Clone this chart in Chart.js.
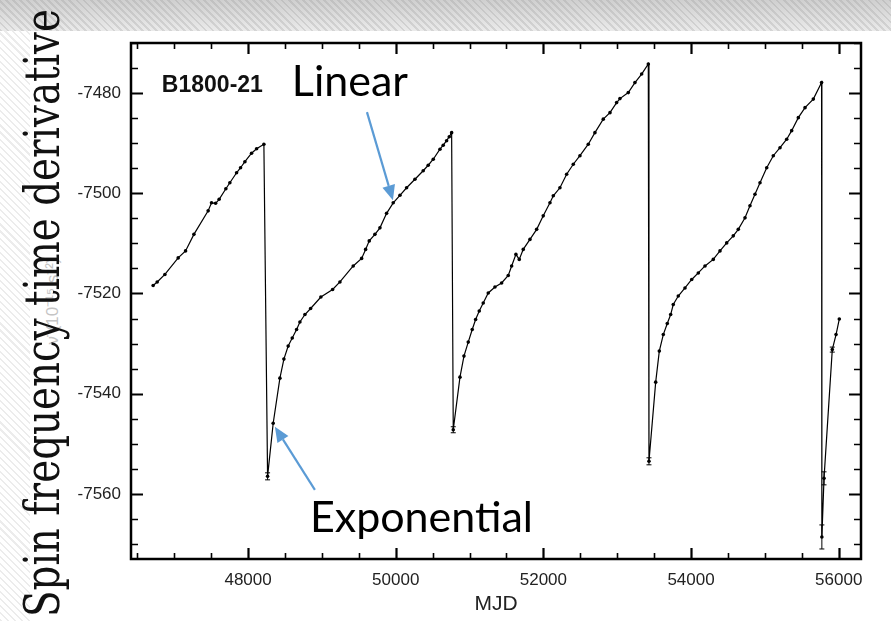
<!DOCTYPE html>
<html>
<head>
<meta charset="utf-8">
<script src="https://cdn.jsdelivr.net/npm/chart.js@4"></script>
<style>
html,body{margin:0;padding:0;width:891px;height:621px;overflow:hidden;}
body{position:relative;background:repeating-linear-gradient(45deg,#ececec 0 1.5px,#ffffff 1.5px 5px);}
#topband{position:absolute;left:0;top:0;width:891px;height:31px;
  background:linear-gradient(to bottom,rgba(150,150,150,0.35),rgba(200,200,200,0.1)),repeating-linear-gradient(45deg,#d6d6d6 0 2px,#eeeeee 2px 5px);}
#panel{position:absolute;left:30px;top:31px;right:0;bottom:0;background:#ffffff;}
#wrap{position:absolute;left:0;top:0;width:891px;height:621px;}
#faint{position:absolute;left:0;top:0;white-space:nowrap;font-family:'Liberation Sans';font-size:17px;line-height:17px;color:#c4c4c4;transform-origin:0 0;}
#big{position:absolute;left:0;top:0;white-space:nowrap;font-family:'DejaVu Serif';font-size:49px;line-height:49px;color:#111;transform-origin:0 0;}
</style>
</head>
<body>
<div id="topband"></div>
<div id="panel"></div>
<div id="faint">ν̇ (10⁻¹⁵ s⁻²)</div>
<div id="wrap"><canvas id="c" width="891" height="621"></canvas></div>
<div id="big">Spin frequency time derivative</div>
<script>
// ---- data ----
const mjd = [
  46714,46769,46873,47053,47153,47266,47459,47505,47560,47608,47699,47753,47844,47898,47957,48047,48115,48214,
  48264,48340,48431,48485,48543,48598,48657,48702,48770,48847,48986,49145,49244,49424,49538,49592,49641,49718,49786,49876,49966,50057,50147,50260,50372,50440,50508,50599,50643,50689,50725,50757,
  50779,50870,50924,50982,51036,51082,51131,51185,51253,51344,51434,51524,51570,51628,51673,51727,51818,51909,51998,52089,52134,52224,52315,52405,52495,52608,52698,52811,52902,52992,53037,53150,53240,53331,53421,
  53430,53521,53570,53624,53678,53724,53759,53827,53918,54009,54098,54189,54301,54392,54483,54572,54640,54731,54798,54866,54934,55025,55114,55205,55296,55363,55453,55544,55656,55768,
  55772,55801,55913,55964,56008
];
const nudot = [
  -7518.4,-7517.7,-7516.2,-7512.9,-7511.5,-7508.2,-7503.5,-7501.9,-7502.0,-7501.2,-7499.1,-7497.9,-7495.9,-7494.9,-7493.7,-7492.0,-7491.1,-7490.2,
  -7556.5,-7545.9,-7536.9,-7533.1,-7530.5,-7528.9,-7527.2,-7525.7,-7524.2,-7523.0,-7520.7,-7519.2,-7517.7,-7514.5,-7513.0,-7511.2,-7509.5,-7508.2,-7506.9,-7504.0,-7501.9,-7500.4,-7498.9,-7497.2,-7495.5,-7494.4,-7493.2,-7491.2,-7490.4,-7489.5,-7488.7,-7487.9,
  -7547.2,-7536.7,-7532.5,-7529.7,-7527.2,-7525.2,-7523.5,-7521.9,-7519.9,-7518.7,-7517.9,-7516.4,-7514.5,-7512.2,-7513.2,-7511.2,-7509.2,-7507.2,-7504.5,-7501.9,-7500.5,-7498.9,-7496.2,-7494.2,-7492.5,-7490.2,-7487.9,-7485.2,-7483.9,-7481.9,-7481.1,-7479.9,-7477.9,-7476.2,-7474.2,
  -7553.5,-7537.7,-7531.5,-7528.2,-7526.0,-7524.2,-7522.2,-7520.5,-7518.9,-7517.2,-7515.9,-7514.5,-7513.2,-7511.5,-7509.9,-7508.5,-7507.2,-7504.9,-7502.5,-7500.2,-7497.9,-7494.9,-7492.5,-7490.9,-7489.2,-7487.5,-7484.9,-7482.9,-7481.2,-7477.9,
  -7568.6,-7556.9,-7531.2,-7528.2,-7525.1
];
// error bars (only a few points show visible ones)
const errIndex = [18, 50, 85, 115, 116, 117];
const errSize  = [0.7, 0.6, 0.7, 2.4, 1.3, 0.5];

const xTickLabels = [48000, 50000, 52000, 54000, 56000];
const yTickLabels = [-7480, -7500, -7520, -7540, -7560];

const pulsarName = 'B1800-21';
// annotations in data coordinates
const notes = [
  {text:'Linear', x:48593, y:-7480.6},
  {text:'Exponential', x:48837, y:-7567.6}
];
const arrows = [
  {from:[49610,-7483.8], to:[49962,-7501.4]},
  {from:[48905,-7559.2], to:[48363,-7546.6]}
];

// ---- big slide label ----
(function(){
  const big = document.getElementById('big');
  const w = big.getBoundingClientRect().width;
  big.style.transform = 'translate(18px,617px) rotate(-90deg) scaleX(' + (608 / w) + ')';
  const f = document.getElementById('faint');
  const fw = f.getBoundingClientRect().width;
  f.style.transform = 'translate(44px,' + (301 + fw/2) + 'px) rotate(-90deg)';
})();

function stepTicks(step) {
  return scale => {
    const t = [];
    for (let v = Math.ceil(scale.min / step) * step; v <= scale.max; v += step) t.push({value: v});
    scale.ticks = t;
  };
}

const frame = {
  id: 'frame',
  afterDraw(chart) {
    const ctx = chart.ctx, a = chart.chartArea;
    const xs = chart.scales.x, ys = chart.scales.y;
    ctx.save();
    ctx.strokeStyle = '#000';
    xs.ticks.forEach(t => {
      const v = t.value;
      const major = v % 2000 === 0;
      const len = major ? 11 : 6;
      const px = Math.round(xs.getPixelForValue(v)) + 0.5;
      ctx.lineWidth = major ? 2.2 : 1.6;
      ctx.beginPath();
      ctx.moveTo(px, a.bottom); ctx.lineTo(px, a.bottom - len);
      ctx.moveTo(px, a.top); ctx.lineTo(px, a.top + len);
      ctx.stroke();
    });
    ys.ticks.forEach(t => {
      const v = t.value;
      const major = v % 20 === 0;
      const len = major ? 12 : 7;
      const py = Math.round(ys.getPixelForValue(v)) + 0.5;
      ctx.lineWidth = major ? 2.2 : 1.6;
      ctx.beginPath();
      ctx.moveTo(a.left, py); ctx.lineTo(a.left + len, py);
      ctx.moveTo(a.right, py); ctx.lineTo(a.right - len, py);
      ctx.stroke();
    });
    ctx.lineWidth = 2.5;
    ctx.strokeRect(a.left, a.top, a.right - a.left, a.bottom - a.top);

    ctx.lineWidth = 1;
    errIndex.forEach((i, k) => {
      const px = xs.getPixelForValue(mjd[i]);
      const y1 = ys.getPixelForValue(nudot[i] - errSize[k]);
      const y2 = ys.getPixelForValue(nudot[i] + errSize[k]);
      ctx.beginPath();
      ctx.moveTo(px, y1); ctx.lineTo(px, y2);
      ctx.moveTo(px - 2.5, y1); ctx.lineTo(px + 2.5, y1);
      ctx.moveTo(px - 2.5, y2); ctx.lineTo(px + 2.5, y2);
      ctx.stroke();
    });

    ctx.fillStyle = '#111';
    ctx.font = 'bold 23px "Liberation Sans"';
    ctx.textBaseline = 'alphabetic';
    ctx.textAlign = 'left';
    ctx.fillText(pulsarName, xs.getPixelForValue(46832), ys.getPixelForValue(-7479.8));

    ctx.fillStyle = '#000';
    ctx.font = '43px Lato';
    notes.forEach(n => ctx.fillText(n.text, xs.getPixelForValue(n.x), ys.getPixelForValue(n.y)));

    ctx.strokeStyle = '#5b9bd5';
    ctx.fillStyle = '#5b9bd5';
    ctx.lineWidth = 2.2;
    arrows.forEach(ar => {
      const x0 = xs.getPixelForValue(ar.from[0]), y0 = ys.getPixelForValue(ar.from[1]);
      const x1 = xs.getPixelForValue(ar.to[0]), y1 = ys.getPixelForValue(ar.to[1]);
      const ang = Math.atan2(y1 - y0, x1 - x0);
      const hl = 15, hw = 6.5;
      const bx = x1 - hl * Math.cos(ang), by = y1 - hl * Math.sin(ang);
      ctx.beginPath(); ctx.moveTo(x0, y0); ctx.lineTo(bx, by); ctx.stroke();
      ctx.beginPath();
      ctx.moveTo(x1, y1);
      ctx.lineTo(bx + hw * Math.sin(ang), by - hw * Math.cos(ang));
      ctx.lineTo(bx - hw * Math.sin(ang), by + hw * Math.cos(ang));
      ctx.closePath(); ctx.fill();
    });
    ctx.restore();
  }
};

new Chart(document.getElementById('c'), {
  type: 'line',
  data: {
    datasets: [{
      data: mjd.map((m, i) => ({x: m, y: nudot[i]})),
      borderColor: '#000',
      borderWidth: 1.2,
      pointRadius: 1.8,
      pointBackgroundColor: '#000',
      pointBorderWidth: 0,
      tension: 0,
      fill: false
    }]
  },
  options: {
    responsive: false,
    animation: false,
    devicePixelRatio: 1,
    layout: {padding: {left: 0, top: 43, right: 30, bottom: 0}},
    plugins: {legend: {display: false}, tooltip: {enabled: false}},
    scales: {
      x: {
        type: 'linear', position: 'bottom', min: 46414, max: 56302,
        afterBuildTicks: stepTicks(500),
        grid: {display: false, drawTicks: false},
        border: {display: false},
        ticks: {
          autoSkip: false, maxRotation: 0, minRotation: 0,
          padding: 11, color: '#222',
          font: {family: 'Liberation Sans', size: 17},
          callback: v => (xTickLabels.includes(v) ? String(v) : '')
        },
        title: {display: true, text: 'MJD', color: '#222',
          font: {family: 'Liberation Sans', size: 21}, padding: {top: 0, bottom: 4}},
        afterFit: s => { s.height = 62; }
      },
      y: {
        type: 'linear', min: -7573, max: -7470,
        afterBuildTicks: stepTicks(5),
        grid: {display: false, drawTicks: false},
        border: {display: false},
        ticks: {
          autoSkip: false,
          padding: 10, color: '#222',
          font: {family: 'Liberation Sans', size: 17},
          callback: v => yTickLabels.includes(v) ? String(v) : ''
        },
        afterFit: s => { s.width = 131; }
      }
    }
  },
  plugins: [frame]
});
</script>
</body>
</html>
